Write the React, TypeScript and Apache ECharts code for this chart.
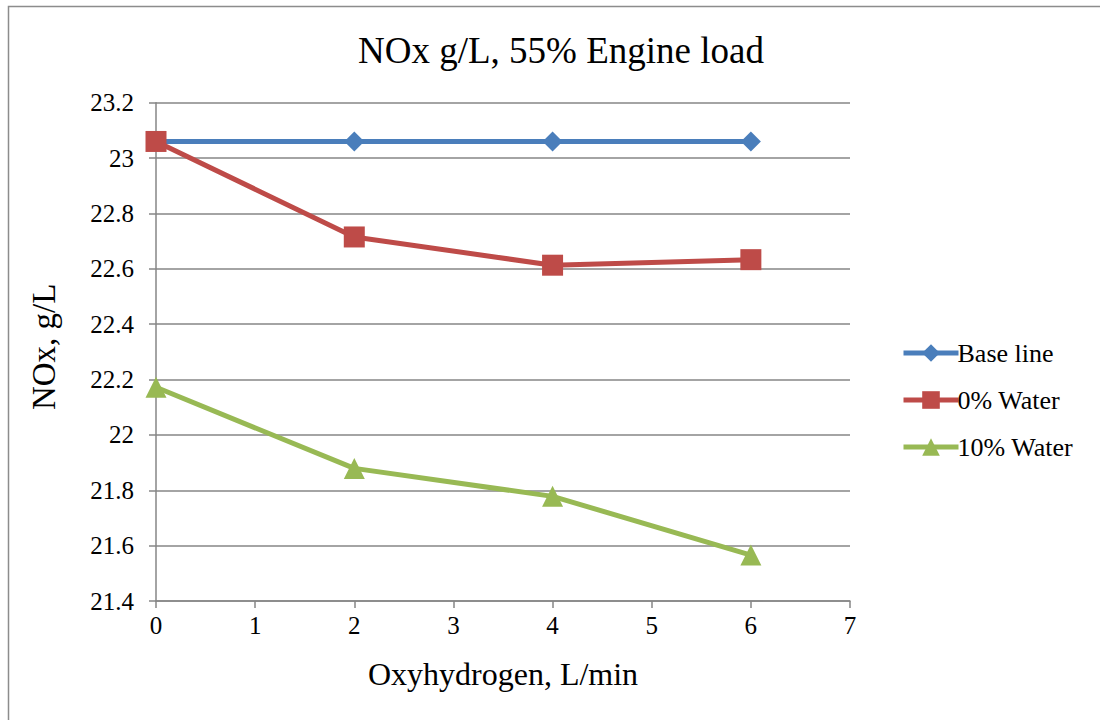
import React, { useEffect, useRef } from "react";
import * as echarts from "echarts";

const xValues = [0, 2, 4, 6];
const baseLine = [23.06, 23.06, 23.06, 23.06];
const water0 = [23.06, 22.715, 22.613, 22.633];
const water10 = [22.172, 21.879, 21.778, 21.566];
const seriesNames = ["Base line", "0% Water", "10% Water"];
const titleText = "NOx g/L, 55% Engine load";
const xName = "Oxyhydrogen, L/min";
const yName = "NOx, g/L";

const FONT = "Liberation Serif";

export default function App() {
  const ref = useRef<HTMLDivElement>(null);
  useEffect(() => {
    document.body.style.margin = "0";
    const chart = echarts.init(ref.current!, null, { renderer: "svg" });
    const pairs = (ys: number[]) => xValues.map((x, i) => [x, ys[i]]);
    const mk = (name: string, ys: number[], color: string, symbol: string, size: number) => ({
      name,
      type: "line",
      data: pairs(ys),
      symbol,
      symbolSize: size,
      lineStyle: { color, width: 5 },
      itemStyle: { color },
      z: 3,
    });
    chart.setOption({
      animation: false,
      backgroundColor: "#fff",
      textStyle: { fontFamily: FONT },
      title: {
        text: titleText,
        left: 556,
        textAlign: "center",
        top: 27,
        textStyle: { fontFamily: FONT, fontSize: 37, fontWeight: "normal", color: "#000" },
      },
      graphic: [
        {
          type: "rect",
          shape: { x: 8.5, y: 6.5, width: 1200, height: 900 },
          style: { fill: "none", stroke: "#8c8c8c", lineWidth: 1.5 },
          silent: true,
        },
      ],
      legend: {
        orient: "vertical",
        left: 896,
        top: 335,
        itemWidth: 55,
        itemHeight: 22,
        itemGap: 21,
        lineStyle: { width: 5 },
        textStyle: { fontFamily: FONT, fontSize: 26, color: "#000", padding: [0, 0, 0, -6] },
        data: seriesNames,
      },
      grid: { left: 156, right: 250, top: 102.7, bottom: 119 },
      xAxis: {
        type: "value",
        min: 0,
        max: 7,
        interval: 1,
        name: xName,
        nameLocation: "middle",
        nameGap: 57,
        nameTextStyle: { fontFamily: FONT, fontSize: 32, color: "#000" },
        axisLine: { show: true, lineStyle: { color: "#868686", width: 1.5 } },
        axisTick: { show: true, length: 7, lineStyle: { color: "#868686", width: 1.5 } },
        axisLabel: { fontFamily: FONT, fontSize: 25, color: "#000", margin: 12 },
        splitLine: { show: false },
      },
      yAxis: {
        type: "value",
        min: 21.4,
        max: 23.2,
        interval: 0.2,
        name: yName,
        nameLocation: "middle",
        nameGap: 96,
        nameRotate: 90,
        nameTextStyle: { fontFamily: FONT, fontSize: 33, color: "#000", padding: [0, 0, 0, 10] },
        axisLine: { show: true, lineStyle: { color: "#868686", width: 1.5 } },
        axisTick: { show: true, length: 7, lineStyle: { color: "#868686", width: 1.5 } },
        axisLabel: {
          fontFamily: FONT,
          fontSize: 25,
          color: "#000",
          margin: 22,
          formatter: (v: number) => String(Number(v.toFixed(1))),
        },
        splitLine: { show: true, lineStyle: { color: "#868686", width: 1.5 } },
      },
      series: [
        mk(seriesNames[0], baseLine, "#4A7EBB", "diamond", 20),
        mk(seriesNames[1], water0, "#BE4B48", "rect", 21),
        mk(seriesNames[2], water10, "#98B954", "triangle", 21),
      ],
    });
    return () => chart.dispose();
  }, []);
  return <div ref={ref} style={{ width: 1100, height: 720 }} />;
}
